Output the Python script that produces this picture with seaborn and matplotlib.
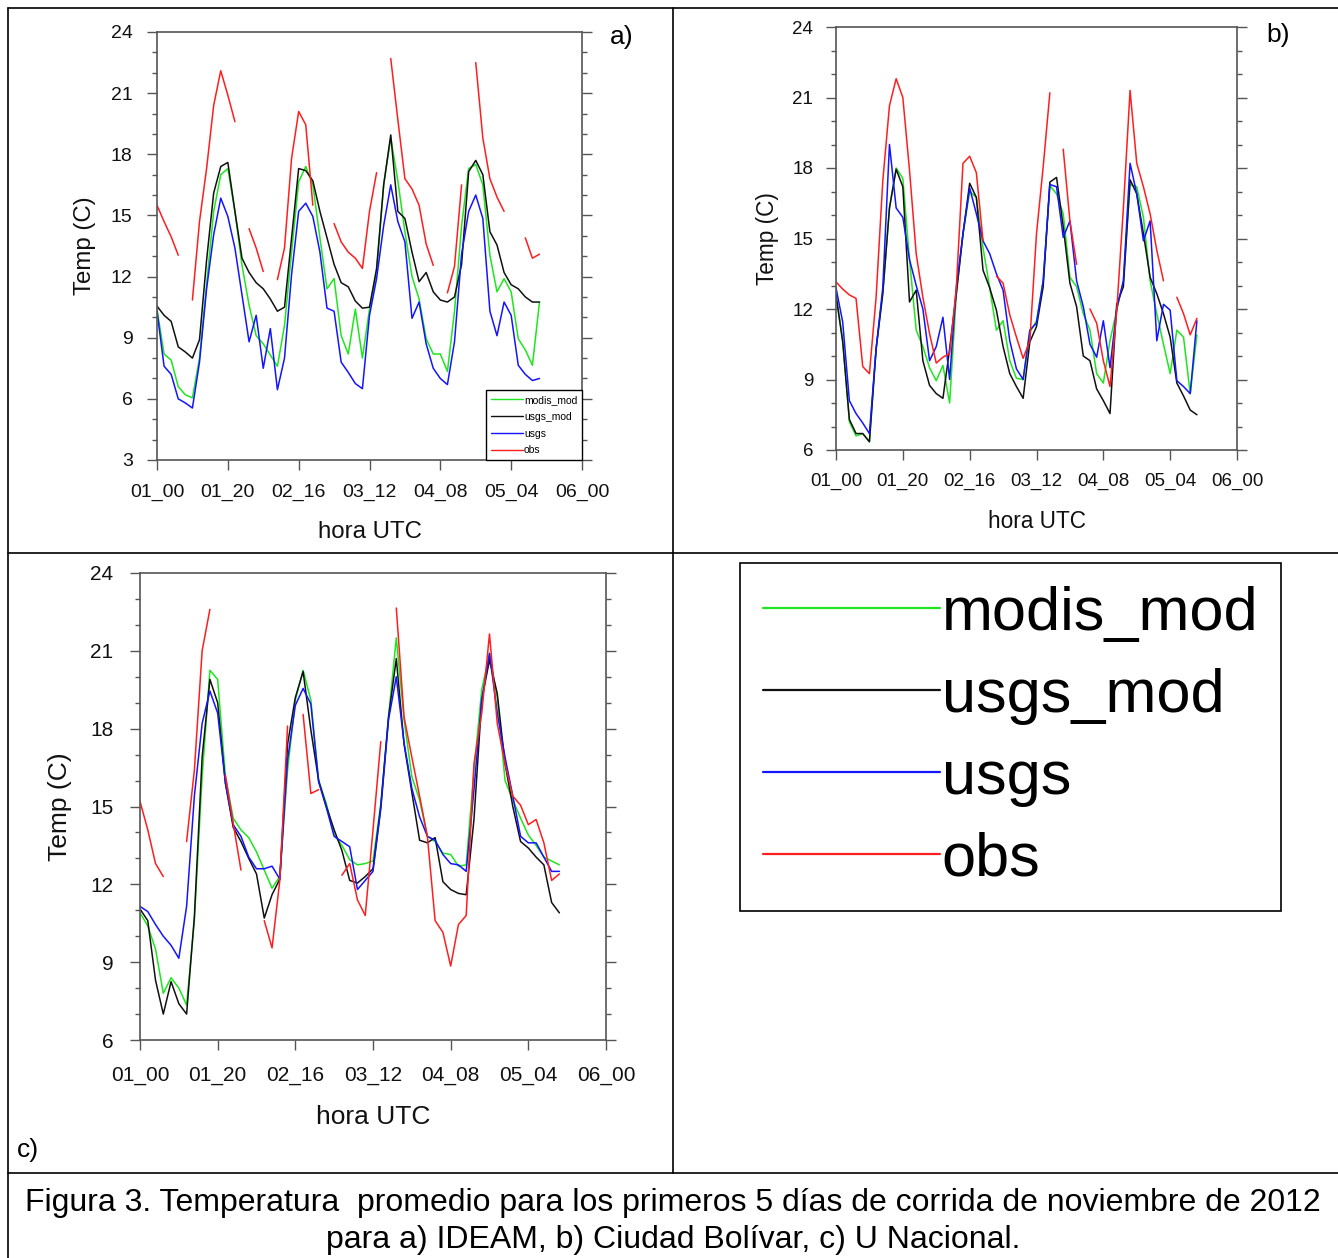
import numpy as np
import pandas as pd
import seaborn as sns
import matplotlib.pyplot as plt
from matplotlib.lines import Line2D
from matplotlib.ticker import MultipleLocator

# ------------------ DATA (every 2 h) ------------------
nan = np.nan
hours = np.arange(0, 110, 2)
tick_hours = [0, 20, 40, 60, 80, 100, 120]
tick_labels = ['01_00', '01_20', '02_16', '03_12', '04_08', '05_04', '06_00']
series_names = ['modis_mod', 'usgs_mod', 'usgs', 'obs']
series_colors = ['#1ee61e', '#111111', '#1414ff', '#ff1e1e']

# a) IDEAM
ideam_modis_mod = [10.4, 8.2, 7.9, 6.6, 6.2, 6.05, 8.0, 11.6, 15.2, 17.0, 17.3, 15.2,
                   12.55, 10.6, 9.1, 8.7, 8.15, 7.6, 9.6, 13.2, 16.65, 17.4, 16.5, 13.9,
                   11.4, 11.9, 9.1, 8.2, 10.4, 8.0, 10.4, 12.2, 16.5, 18.8, 16.7, 14.2,
                   12.0, 10.9, 8.95, 8.2, 8.2, 7.35, 10.3, 14.5, 17.3, 17.5, 16.5, 13.05,
                   11.25, 11.9, 11.25, 8.95, 8.4, 7.65, 10.75]
ideam_usgs_mod = [10.55, 10.1, 9.8, 8.55, 8.3, 8.0, 8.9, 12.8, 16.1, 17.4, 17.6, 15.2,
                  12.9, 12.2, 11.7, 11.4, 10.9, 10.3, 10.5, 13.9, 17.3, 17.2, 16.7, 15.2,
                  13.9, 12.6, 11.7, 11.5, 10.8, 10.45, 10.5, 12.4, 16.5, 18.95, 15.2, 14.85,
                  13.2, 11.75, 12.2, 11.25, 10.85, 10.75, 11.0, 12.6, 17.15, 17.7, 17.0, 14.2,
                  13.55, 12.2, 11.6, 11.4, 11.0, 10.75, 10.75]
ideam_usgs = [10.3, 7.6, 7.2, 6.0, 5.8, 5.55, 7.8, 11.4, 14.05, 15.85, 14.95, 13.4,
              11.1, 8.8, 10.1, 7.5, 9.45, 6.45, 8.0, 12.1, 15.2, 15.6, 14.95, 13.2,
              10.45, 10.3, 7.8, 7.3, 6.75, 6.5, 10.1, 11.9, 14.5, 16.5, 14.7, 13.7,
              9.95, 10.75, 8.7, 7.5, 7.0, 6.7, 8.8, 13.1, 15.2, 16.0, 14.85, 10.3,
              9.1, 10.75, 10.1, 7.65, 7.2, 6.9, 7.0]
ideam_obs = [15.5, 14.7, 13.95, 13.05, nan, 10.85, 14.7, 17.3, 20.4, 22.1, 20.9, 19.6,
             nan, 14.35, 13.4, 12.25, nan, 11.85, 13.4, 17.8, 20.1, 19.45, 15.5, nan,
             nan, 14.6, 13.7, 13.2, 12.9, 12.4, 15.2, 17.1, nan, 22.7, 19.7, 16.8,
             16.3, 15.5, 13.6, 12.55, nan, 11.2, 12.5, 16.5, nan, 22.5, 18.8, 16.8,
             15.9, 15.2, nan, nan, 13.9, 12.9, 13.1]

# b) Ciudad Bolivar
bolivar_modis_mod = [12.6, 10.7, 7.2, 6.6, 6.7, 6.35, 10.3, 12.7, 16.3, 18.0, 17.55, 14.1,
                     11.1, 10.4, 9.5, 8.95, 9.6, 8.0, 12.6, 15.2, 17.0, 16.75, 14.6, 12.9,
                     11.1, 11.5, 9.8, 9.05, 9.0, 11.0, 11.5, 13.2, 17.25, 16.9, 16.05, 13.35,
                     12.95, 11.8, 11.1, 9.25, 8.85, 10.65, 11.95, 13.2, 17.3, 17.2, 15.9, 13.2,
                     11.8, 10.5, 9.25, 11.1, 10.8, 8.4, 10.9]
bolivar_usgs_mod = [12.6, 10.6, 7.3, 6.7, 6.7, 6.35, 10.3, 12.65, 16.3, 17.95, 17.2, 12.3,
                    12.8, 9.8, 8.75, 8.4, 8.2, 10.3, 12.65, 15.2, 17.35, 16.75, 13.65, 12.9,
                    11.95, 10.4, 9.25, 8.7, 8.2, 10.6, 11.25, 12.95, 17.4, 17.6, 15.5, 13.1,
                    12.1, 10.0, 9.8, 8.6, 8.1, 7.55, 12.2, 12.95, 17.5, 16.9, 15.2, 13.35,
                    12.65, 11.8, 10.8, 8.85, 8.3, 7.7, 7.5]
bolivar_usgs = [12.9, 11.45, 8.1, 7.55, 7.15, 6.7, 10.3, 12.9, 19.0, 16.3, 15.9, 14.1,
                13.0, 12.0, 9.8, 10.4, 11.65, 9.0, 12.9, 15.2, 17.15, 16.05, 14.9, 14.35,
                13.5, 12.8, 10.65, 9.45, 9.0, 11.1, 11.4, 13.2, 17.3, 17.2, 15.05, 15.75,
                13.2, 12.1, 10.5, 9.95, 11.5, 9.5, 12.0, 13.2, 18.2, 16.9, 14.9, 15.75,
                10.65, 12.2, 11.95, 8.95, 8.7, 8.4, 11.5]
bolivar_obs = [13.15, 12.85, 12.6, 12.45, 9.55, 9.25, 12.5, 17.45, 20.65, 21.8, 21.0, 17.9,
               14.35, 12.5, 10.95, 9.7, 9.95, 10.1, 12.9, 18.2, 18.5, 17.8, 14.9, nan,
               13.4, 13.1, 11.75, 10.8, 9.9, 10.65, 15.2, 18.05, 21.2, nan, 18.8, 15.75,
               13.9, nan, 12.0, 11.4, 9.8, 8.7, 11.9, 16.3, 21.3, 18.2, 17.2, 16.05,
               14.5, 13.2, nan, 12.5, 11.8, 10.9, 11.6]

# c) U Nacional
unal_modis_mod = [10.9, 10.4, 9.5, 7.8, 8.4, 8.0, 7.35, 10.6, 16.15, 20.25, 19.9, 16.15,
                  14.55, 14.1, 13.8, 13.25, 12.55, 11.85, 12.3, 16.4, 19.1, 20.25, 19.1, 16.0,
                  15.1, 13.9, 13.5, 12.95, 12.75, 12.8, 12.9, 15.1, 18.45, 21.5, 18.35, 16.15,
                  15.25, 13.85, 13.65, 13.2, 13.15, 12.7, 12.75, 16.4, 19.5, 20.9, 19.2, 16.0,
                  15.25, 14.55, 13.9, 13.5, 13.05, 12.9, 12.75]
unal_usgs_mod = [11.05, 10.6, 8.3, 7.0, 8.25, 7.4, 7.0, 10.75, 16.9, 19.9, 19.0, 15.9,
                 14.2, 13.65, 13.0, 12.4, 10.7, 11.6, 12.2, 17.4, 19.2, 20.2, 17.95, 16.0,
                 15.0, 14.1, 13.3, 12.15, 12.05, 12.3, 12.6, 15.0, 18.45, 20.7, 17.4, 15.55,
                 13.7, 13.6, 13.8, 12.1, 11.8, 11.65, 11.6, 14.5, 19.1, 20.65, 19.35, 16.65,
                 15.0, 13.65, 13.4, 13.05, 12.75, 11.3, 10.9]
unal_usgs = [11.15, 10.95, 10.45, 10.0, 9.65, 9.15, 11.15, 15.4, 18.2, 19.45, 18.6, 15.9,
             14.3, 13.85, 13.05, 12.6, 12.6, 12.7, 12.2, 16.8, 18.9, 19.55, 18.95, 15.95,
             14.95, 13.85, 13.65, 13.45, 11.8, 12.15, 12.5, 14.9, 18.35, 20.0, 17.45, 15.7,
             14.6, 13.85, 13.7, 13.15, 12.8, 12.75, 12.5, 15.65, 19.1, 20.9, 18.6, 16.9,
             15.4, 13.85, 13.6, 13.6, 13.05, 12.5, 12.5]
unal_obs = [15.2, 14.1, 12.8, 12.3, nan, nan, 13.65, 16.4, 21.0, 22.6, nan, 16.2,
            14.35, 12.55, nan, nan, 10.6, 9.55, 12.15, 18.1, nan, 18.55, 15.5, 15.65,
            nan, nan, 12.35, 12.8, 11.4, 10.8, 14.1, 17.5, nan, 22.65, 18.45, 16.9,
            15.4, 13.85, 10.6, 10.15, 8.85, 10.45, 10.8, 16.65, 18.6, 21.65, 18.2, 16.65,
            15.4, 15.05, 14.3, 14.5, 13.6, 12.15, 12.4]

caption = ('Figura 3. Temperatura  promedio para los primeros 5 días de corrida de noviembre de 2012\n'
           'para a) IDEAM, b) Ciudad Bolívar, c) U Nacional.')
# ---------------------------------------------------------------------------

W, H = 1338, 1258
palette = dict(zip(series_names, series_colors))


def long_frame(*columns):
    parts = []
    for name, vals in zip(series_names, columns):
        v = pd.Series(vals, dtype=float)
        block = v.isna().cumsum().astype(str)
        parts.append(pd.DataFrame({'hour': hours, 'temp': v, 'series': name,
                                   'seg': name + '_' + block}))
    return pd.concat(parts, ignore_index=True)


def px_box(left, top, right, bottom):
    return [left / W, 1 - bottom / H, (right - left) / W, (bottom - top) / H]


def draw_panel(ax, df, ymin, tick_size, label_size, pad, xlab_y, ylab_x):
    sns.lineplot(data=df, x='hour', y='temp', hue='series', units='seg',
                 estimator=None, hue_order=series_names, palette=palette,
                 linewidth=1.1, legend=False, ax=ax)
    ax.set_xlim(0, 120)
    ax.set_ylim(ymin, 24)
    ax.set_xticks(tick_hours)
    ax.set_xticklabels(tick_labels)
    ax.yaxis.set_major_locator(MultipleLocator(3))
    ax.yaxis.set_minor_locator(MultipleLocator(1))
    ax.tick_params(axis='both', which='both', direction='out', color='#555555',
                   labelcolor='#111111', width=1.0)
    ax.tick_params(axis='y', which='both', left=True, right=True, labelright=False)
    ax.tick_params(axis='x', which='both', bottom=True, top=False)
    ax.tick_params(which='major', length=7.5, pad=pad, labelsize=tick_size)
    ax.tick_params(which='minor', length=3.8)
    for s in ax.spines.values():
        s.set_visible(True)
        s.set_color('#555555')
        s.set_linewidth(1.2)
    ax.set_xlabel('hora UTC', fontsize=label_size, color='#111111')
    ax.set_ylabel('Temp (C)', fontsize=label_size, color='#111111')
    ax.xaxis.set_label_coords(0.5, xlab_y)
    ax.yaxis.set_label_coords(ylab_x, 0.5)


def legend_handles(lw):
    return [Line2D([], [], color=c, lw=lw) for c in series_colors]


sns.set_style('white')
plt.rcParams['font.family'] = ['Liberation Sans', 'DejaVu Sans']
plt.rcParams['text.color'] = 'black'

fig = plt.figure(figsize=(W / 100, H / 100), dpi=100)

ax_a = fig.add_axes(px_box(157, 32, 582, 460))
draw_panel(ax_a, long_frame(ideam_modis_mod, ideam_usgs_mod, ideam_usgs, ideam_obs),
           3, 14, 17.3, 10, -0.1425, -0.1435)
leg_a = ax_a.legend(legend_handles(1.0), series_names, loc='lower right', fontsize=7.5,
                    handlelength=3.1, handletextpad=0.05, labelspacing=0.65,
                    borderpad=0.45, borderaxespad=0, fancybox=False,
                    edgecolor='black', framealpha=1)
leg_a.get_frame().set_linewidth(1.0)

ax_b = fig.add_axes(px_box(836, 27, 1237, 450))
draw_panel(ax_b, long_frame(bolivar_modis_mod, bolivar_usgs_mod, bolivar_usgs, bolivar_obs),
           6, 13.5, 16.3, 9, -0.141, -0.142)

ax_c = fig.add_axes(px_box(140, 573, 606, 1040))
draw_panel(ax_c, long_frame(unal_modis_mod, unal_usgs_mod, unal_usgs, unal_obs),
           6, 15, 19, 11.5, -0.139, -0.146)

# big legend in the empty cell
big = fig.legend(legend_handles(1.6), series_names, loc='upper left',
                 bbox_to_anchor=(740 / W, 1 - 563 / H), fontsize=44,
                 handlelength=2.9, handletextpad=0.03, labelcolor='black',
                 labelspacing=0.41, borderpad=0.37, borderaxespad=0, fancybox=False,
                 edgecolor='black', framealpha=1)
big.get_frame().set_linewidth(1.2)

# panel letters
fig.text(622 / W, 1 - 37 / H, 'a)', fontsize=19, ha='center', va='center')
fig.text(1278 / W, 1 - 35 / H, 'b)', fontsize=19, ha='center', va='center')
fig.text(28 / W, 1 - 1150 / H, 'c)', fontsize=19, ha='center', va='center')

# table rules
rules = [((8, 1338), (8, 8)), ((8, 1338), (553, 553)), ((8, 1338), (1173, 1173)),
         ((8, 8), (8, 1258)), ((673, 673), (8, 1173))]
for xs, ys in rules:
    fig.add_artist(Line2D([x / W for x in xs], [1 - y / H for y in ys],
                          transform=fig.transFigure, color='black', lw=1.2))

fig.text(673 / W, 1 - 1221.5 / H, caption, fontsize=23, ha='center', va='center',
         linespacing=1.3)

fig.savefig('out.png', dpi=100)
